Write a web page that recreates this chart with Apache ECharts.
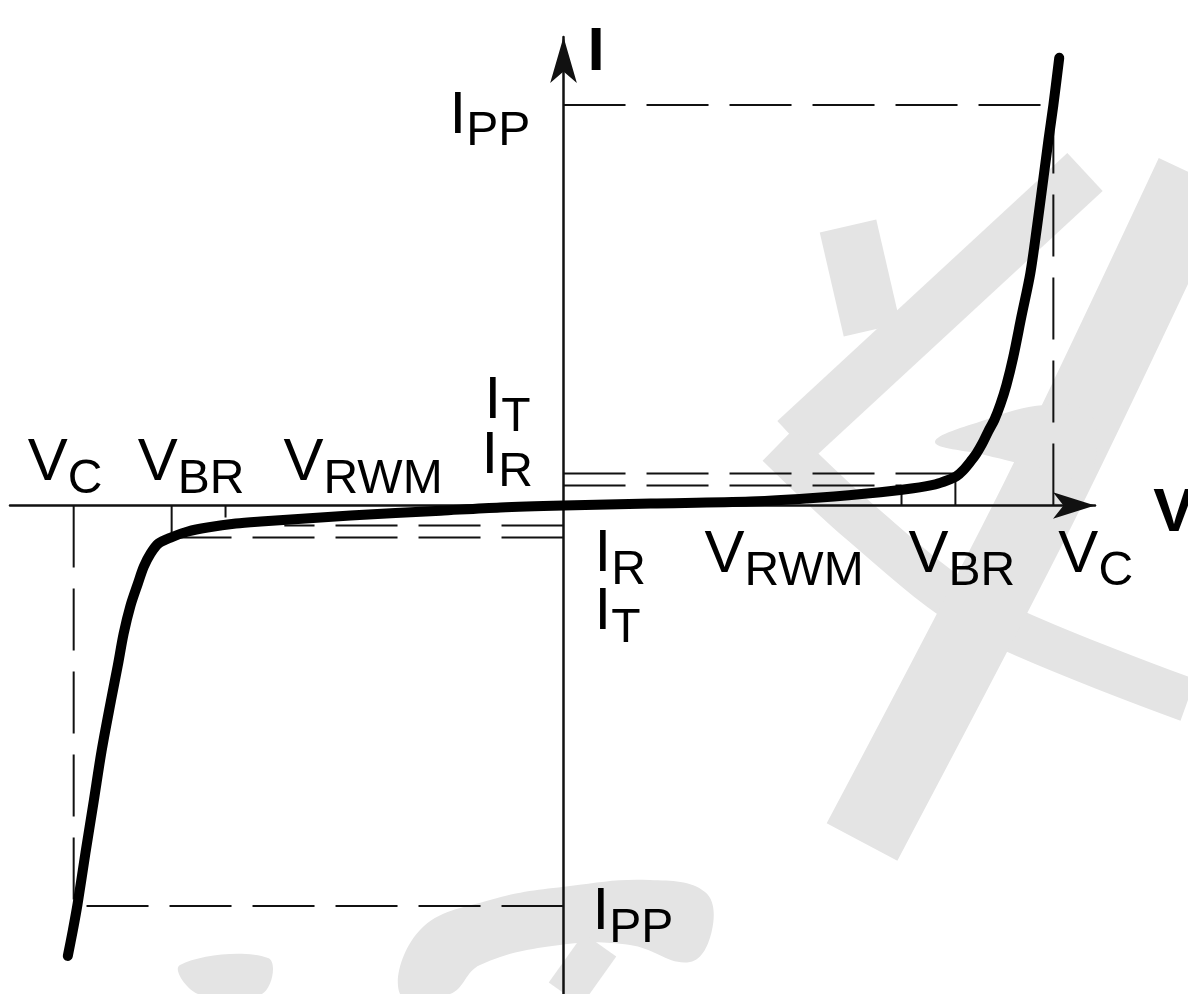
<!DOCTYPE html>
<html>
<head>
<meta charset="utf-8">
<title>TVS I-V characteristic</title>
<script src="https://cdn.jsdelivr.net/npm/echarts@6/dist/echarts.min.js"></script>
<style>
  html, body { margin: 0; padding: 0; background: #fff; }
  #chart { width: 1188px; height: 994px; }
</style>
</head>
<body>
<div id="chart"></div>
<script>
// characteristic points (schematic units)
const vRWM = 6.9
const vBR = 8.0
const vC = 10.0
const iPP = 10.0
const iT = 0.8
const iR = 0.5

// I-V curve
const curveV = [-10.12, -10.02, -9.92, -9.76, -9.59, -9.43, -9.24, -9.10, -8.98, -8.84, -8.69, -8.57,
  -8.43, -8.27, -8.02, -7.67, -7.27, -6.69, -6.18, -4.35, -2.51, -1.29, 0,
  1.78, 3.82, 5.24, 6.47, 7.14, 7.59, 7.84, 8.02, 8.16, 8.31, 8.43, 8.55, 8.67, 8.80,
  8.92, 9.04, 9.18, 9.35, 9.53, 9.67, 9.80, 9.90, 10.0, 10.12]
const curveI = [-11.25, -10.63, -9.95, -8.68, -7.38, -6.13, -4.88, -4.0, -3.2, -2.5, -1.95, -1.53,
  -1.2, -0.95, -0.8, -0.65, -0.55, -0.45, -0.4, -0.25, -0.13, -0.05, 0,
  0.05, 0.10, 0.20, 0.33, 0.43, 0.53, 0.63, 0.73, 0.88, 1.10, 1.30, 1.55, 1.85, 2.15,
  2.53, 3.0, 3.7, 4.73, 5.8, 7.0, 8.2, 9.13, 10.0, 11.18]

// where the V_RWM / V_BR ticks meet the curve
const tickTopPos = [0.38, 0.75]
const tickTopNeg = [-0.3, -0.7]

// labels: main letter + subscript
const labelMain = ['V', 'V', 'V', 'V', 'V', 'V', 'I', 'I', 'I', 'I', 'I', 'I']
const labelSub = ['C', 'BR', 'RWM', 'RWM', 'BR', 'C', 'PP', 'T', 'R', 'R', 'T', 'PP']
const labelAt = [[-vC, 0], [-vBR, 0], [-vRWM, 0], [vRWM, 0], [vBR, 0], [vC, 0],
  [0, iPP], [0, iT], [0, iR], [0, -iR], [0, -iT], [0, -iPP]]
const axisNames = ['V', 'I']
const axisNameAt = [[vC, 0], [0, iPP]]

// pixel offsets of each label box from its anchor
const labelOffset = [[-46, -72], [-34, -72], [58, -72], [-197, 20], [-47, 20], [5, 20],
  [-114, -19], [-79, -102], [-82, -59], [31, -1], [31, 45], [29, -23]]
const axisNameOffset = [[100, -23], [24, -83]]

const FONT = '"Liberation Sans", Arial, sans-serif'
const INK = '#000'
const DASH = [62, 21]
const WATERMARK = '#e4e4e4'

const chart = echarts.init(document.getElementById('chart'))

function segment(points, dashed, name) {
  return {
    name: name,
    type: 'line',
    data: points,
    showSymbol: false,
    silent: true,
    z: 3,
    lineStyle: { color: '#111', width: 2, type: dashed ? DASH : 'solid' },
  }
}

const guideSeries = [
  segment([[0, iPP], [vC, iPP]], true, 'ipp-top'),
  segment([[vC, 0], [vC, iPP]], true, 'vc-right'),
  segment([[0, -iPP], [-vC, -iPP]], true, 'ipp-bottom'),
  segment([[-vC, 0], [-vC, -iPP]], true, 'vc-left'),
  segment([[0, iT], [vBR, iT]], true, 'it-right'),
  segment([[0, iR], [vRWM, iR]], true, 'ir-right'),
  segment([[0, -iR], [-vRWM + 1.2, -iR]], true, 'ir-left'),
  segment([[0, -iT], [-vBR, -iT]], true, 'it-left'),
  segment([[vRWM, 0], [vRWM, tickTopPos[0]]], false, 'tick-rwm'),
  segment([[vBR, 0], [vBR, tickTopPos[1]]], false, 'tick-br'),
  segment([[-vRWM, 0], [-vRWM, tickTopNeg[0]]], false, 'tick-rwm-neg'),
  segment([[-vBR, 0], [-vBR, tickTopNeg[1]]], false, 'tick-br-neg'),
]

const labelData = labelAt.map((p, i) => ({
  value: p,
  label: {
    formatter: '{m|' + labelMain[i] + '}{s|' + labelSub[i] + '}',
    offset: labelOffset[i],
  },
}))

const axisNameData = axisNameAt.map((p, i) => ({
  value: p,
  label: {
    formatter: '{b|' + axisNames[i] + '}',
    offset: axisNameOffset[i],
  },
}))

const textLabel = {
  show: true,
  position: 'inside',
  align: 'left',
  verticalAlign: 'top',
  color: INK,
  opacity: 1,
  fontFamily: FONT,
  rich: {
    m: { fontSize: 60, lineHeight: 60, verticalAlign: 'top', fontFamily: FONT, color: INK },
    s: { fontSize: 48, lineHeight: 48, verticalAlign: 'top', padding: [22, 0, 0, 0], fontFamily: FONT, color: INK },
    b: { fontSize: 62, lineHeight: 62, fontWeight: 'bold', verticalAlign: 'top', fontFamily: FONT, color: INK },
  },
}

const axisCommon = {
  type: 'value',
  axisTick: { show: false },
  axisLabel: { show: false },
  splitLine: { show: false },
}

// faint logo watermark behind the drawing (decoration only)
function stroke(points, width) {
  return {
    type: 'polyline',
    silent: true,
    z: -1,
    shape: { points: points, smooth: 0.3 },
    style: { stroke: WATERMARK, lineWidth: width, fill: null },
  }
}
function blob(points) {
  return {
    type: 'polygon',
    silent: true,
    z: -1,
    shape: { points: points, smooth: 0.4 },
    style: { fill: WATERMARK },
  }
}
const watermark = [
  stroke([[848, 226], [872, 330]], 58),
  stroke([[795, 440], [1085, 172]], 52),
  stroke([[778, 445], [860, 522], [975, 612], [1188, 700]], 44),
  stroke([[1195, 175], [1040, 500], [862, 842]], 80),
  blob([[935, 442], [985, 420], [1045, 405], [1088, 412], [1097, 445], [1085, 478], [1040, 468], [985, 455]]),
  blob([[400, 994], [420, 930], [490, 900], [570, 886], [650, 880], [705, 892], [712, 930], [690, 962], [630, 945], [560, 945], [480, 965], [450, 994]]),
  stroke([[600, 945], [565, 994]], 40),
  blob([[180, 965], [268, 958], [262, 994], [198, 994]]),
]

const option = {
  animation: false,
  backgroundColor: '#fff',
  graphic: { elements: watermark },
  grid: { left: 10, right: 93, top: 37, bottom: 0, outerBoundsMode: 'none' },
  xAxis: {
    ...axisCommon,
    min: -11.3,
    max: 10.85,
    axisLine: {
      onZero: true,
      symbol: ['none', 'arrow'],
      symbolSize: [20, 42],
      lineStyle: { color: '#111', width: 2.5 },
    },
  },
  yAxis: {
    ...axisCommon,
    min: -12.2,
    max: 11.7,
    axisLine: {
      onZero: true,
      symbol: ['none', 'arrow'],
      symbolSize: [20, 46],
      lineStyle: { color: '#111', width: 2.5 },
    },
  },
  series: [
    ...guideSeries,
    {
      name: 'I-V',
      type: 'line',
      data: curveV.map((v, i) => [v, curveI[i]]),
      showSymbol: false,
      smooth: 0.3,
      silent: true,
      z: 5,
      lineStyle: { color: '#000', width: 10, cap: 'round', join: 'round' },
    },
    {
      name: 'labels',
      type: 'scatter',
      data: labelData,
      symbolSize: 0,
      itemStyle: { opacity: 1 },
      silent: true,
      z: 6,
      label: textLabel,
    },
    {
      name: 'axis-names',
      type: 'scatter',
      data: axisNameData,
      symbolSize: 0,
      itemStyle: { opacity: 1 },
      silent: true,
      z: 6,
      label: textLabel,
    },
  ],
}

chart.setOption(option)
</script>
</body>
</html>
